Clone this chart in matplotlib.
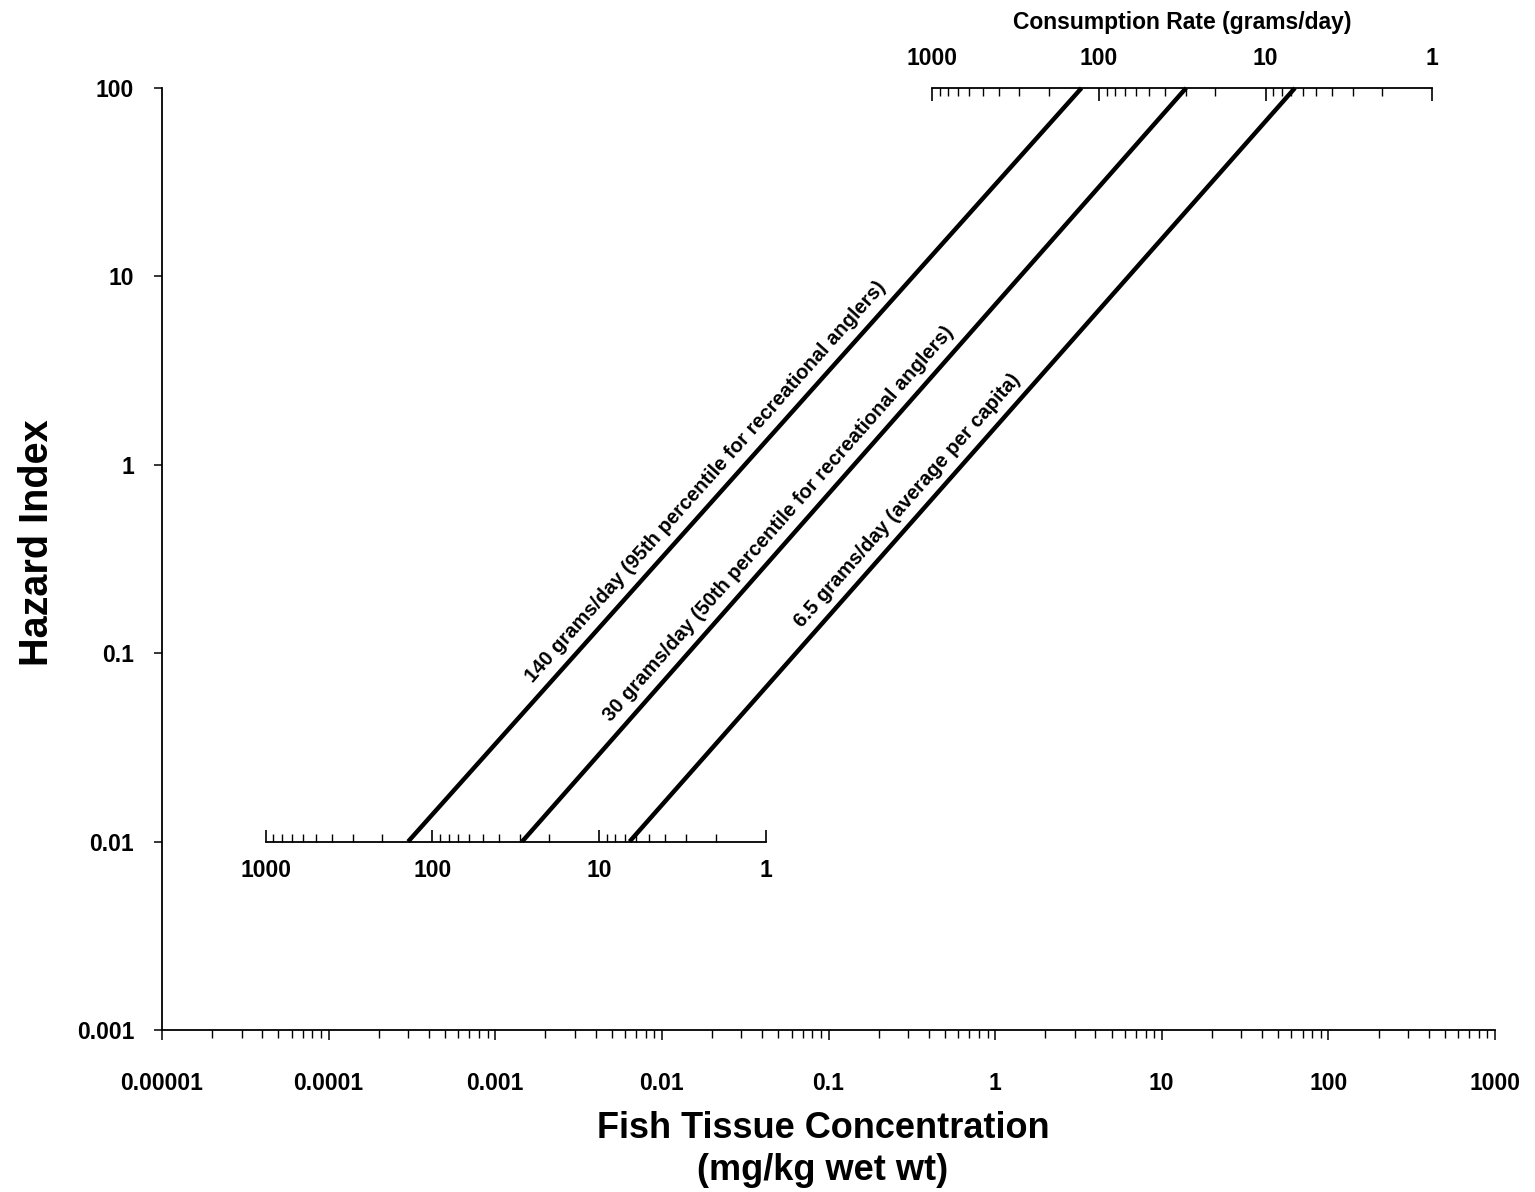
"""Hazard index vs fish tissue concentration, with consumption-rate scales."""
import numpy as np
import matplotlib
matplotlib.use("Agg")
import matplotlib.pyplot as plt
from matplotlib.ticker import FixedLocator, LogLocator, NullFormatter

plt.rcParams["font.family"] = ["Liberation Sans", "DejaVu Sans"]

# consumption rates (grams/day) and the line labels
rates = [140, 30, 6.5]
line_labels = ["140 grams/day (95th percentile for recreational anglers)",
               "30 grams/day (50th percentile for recreational anglers)",
               "6.5 grams/day (average per capita)"]
# fish tissue concentration (mg/kg) where each line meets HI = 0.01 and HI = 100
hi_low, hi_high = 0.01, 100
conc_low = [3.0e-4, 1.45e-3, 6.4e-3]
conc_high = [3.3, 14.0, 63.0]

x_ticks = [1e-5, 1e-4, 1e-3, 1e-2, 1e-1, 1, 10, 100, 1000]
x_ticklabels = ["0.00001", "0.0001", "0.001", "0.01", "0.1", "1", "10", "100", "1000"]
y_ticks = [1e-3, 1e-2, 1e-1, 1, 10, 100]
y_ticklabels = ["0.001", "0.01", "0.1", "1", "10", "100"]

rate_ticks = [1000, 100, 10, 1]
rate_ticklabels = ["1000", "100", "10", "1"]
rate_minor = [m * d for d in (1, 10, 100) for m in range(2, 10)]

fig = plt.figure(figsize=(15.35, 11.92), dpi=100)
ax = fig.add_axes([162 / 1535, 1 - 1030 / 1192, (1495 - 162) / 1535, (1030 - 88) / 1192])
ax.set_xscale("log")
ax.set_yscale("log")
ax.set_xlim(1e-5, 1e3)
ax.set_ylim(1e-3, 1e2)

for s in ("top", "right"):
    ax.spines[s].set_visible(False)
for s in ("left", "bottom"):
    ax.spines[s].set_linewidth(1.3)

ax.xaxis.set_major_locator(FixedLocator(x_ticks))
ax.set_xticklabels(x_ticklabels)
ax.xaxis.set_minor_locator(LogLocator(base=10, subs=np.arange(2, 10)))
ax.xaxis.set_minor_formatter(NullFormatter())
ax.yaxis.set_major_locator(FixedLocator(y_ticks))
ax.set_yticklabels(y_ticklabels)
ax.yaxis.set_minor_locator(FixedLocator([]))
ax.tick_params(axis="x", which="major", length=7, width=1.1, pad=23, labelsize=16.5)
ax.tick_params(axis="x", which="minor", length=6, width=1.0)
ax.tick_params(axis="y", which="major", length=6, width=1.1, pad=14, labelsize=16.5)
for lab in ax.get_xticklabels() + ax.get_yticklabels():
    lab.set_fontweight("bold")

# the three exposure lines
for c0, c1 in zip(conc_low, conc_high):
    ax.plot([c0, c1], [hi_low, hi_high], color="black", lw=3.2,
            solid_capstyle="butt", clip_on=False)

# consumption rate scales: concentration at a given HI is inversely prop. to rate
k_low = np.median(np.array(conc_low) * np.array(rates))
k_high = np.median(np.array(conc_high) * np.array(rates))

def rate_scale(k, hi, up):
    xs = [k / r for r in (1000, 1)]
    ax.plot(xs, [hi, hi], color="black", lw=1.3, clip_on=False)
    mk = 2 if up else 3
    ax.plot([k / r for r in rate_minor], [hi] * len(rate_minor), ls="none",
            marker=mk, ms=6, mew=1.0, color="black", clip_on=False)
    ax.plot([k / r for r in rate_ticks], [hi] * len(rate_ticks), ls="none",
            marker=mk, ms=9, mew=1.2, color="black", clip_on=False)
    for r, lab in zip(rate_ticks, rate_ticklabels):
        ax.annotate(lab, xy=(k / r, hi), xytext=(0, -12.5 if up else 13),
                    textcoords="offset points", ha="center",
                    va="top" if up else "bottom", fontsize=16.5,
                    fontweight="bold")

rate_scale(k_low, hi_low, up=True)
rate_scale(k_high, hi_high, up=False)
ax.annotate("Consumption Rate (grams/day)", xy=(k_high / np.sqrt(1000), hi_high),
            xytext=(0, 47), textcoords="offset points", ha="center", va="center",
            fontsize=16.5, fontweight="bold")

# labels along the lines
label_hi = [0.70, 0.42, 0.56]
for c0, c1, h, text in zip(conc_low, conc_high, label_hi, line_labels):
    p0 = ax.transData.transform((c0, hi_low))
    p1 = ax.transData.transform((c1, hi_high))
    ang = np.degrees(np.arctan2(p1[1] - p0[1], p1[0] - p0[0]))
    t = np.log10(h / hi_low) / np.log10(hi_high / hi_low)
    c = 10 ** (np.log10(c0) + t * (np.log10(c1) - np.log10(c0)))
    off = 6
    ax.annotate(text, xy=(c, h),
                xytext=(-off * np.sin(np.radians(ang)), off * np.cos(np.radians(ang))),
                textcoords="offset points", rotation=ang, rotation_mode="anchor",
                ha="center", va="bottom", fontsize=14.5, fontweight="bold")

fig.text(37 / 1535, 1 - 543 / 1192, "Hazard Index", rotation=90, ha="center",
         va="center", fontsize=28.5, fontweight="bold")
fig.text(823 / 1535, 1 - 1128 / 1192, "Fish Tissue Concentration", ha="center",
         va="center", fontsize=26, fontweight="bold")
fig.text(823 / 1535, 1 - 1170 / 1192, "(mg/kg wet wt)", ha="center",
         va="center", fontsize=26, fontweight="bold")

fig.savefig("out.png", dpi=100)
plt.close(fig)
